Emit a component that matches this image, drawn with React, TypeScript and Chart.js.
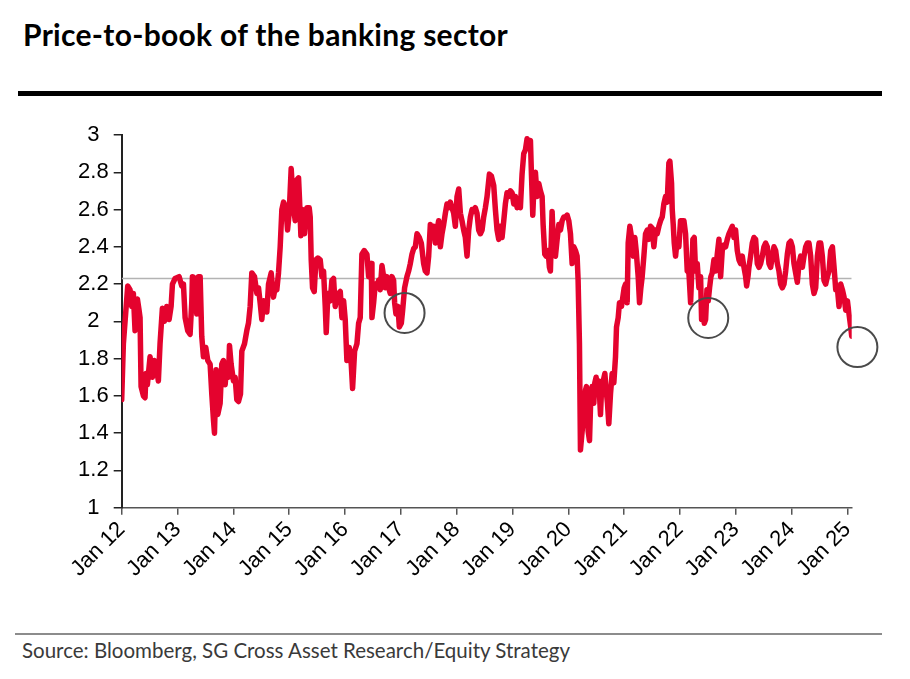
import React, { useEffect, useRef } from 'react';
import { Chart, registerables } from 'chart.js';

Chart.register(...registerables);

// decimal years (Jan 2012 = 2012.0)
const pbYears = [
  2012.000, 2012.030, 2012.108, 2012.149, 2012.179, 2012.209, 2012.239, 2012.281, 2012.311, 2012.329,
  2012.347, 2012.389, 2012.418, 2012.436, 2012.460, 2012.508, 2012.550, 2012.586, 2012.628, 2012.657,
  2012.687, 2012.729, 2012.765, 2012.807, 2012.849, 2012.885, 2012.909, 2012.956, 2013.028, 2013.076,
  2013.106, 2013.136, 2013.183, 2013.225, 2013.255, 2013.267, 2013.315, 2013.345, 2013.375, 2013.405,
  2013.434, 2013.464, 2013.506, 2013.542, 2013.584, 2013.614, 2013.644, 2013.662, 2013.691, 2013.721,
  2013.763, 2013.793, 2013.823, 2013.853, 2013.883, 2013.913, 2013.931, 2013.960, 2014.002, 2014.032,
  2014.062, 2014.092, 2014.128, 2014.152, 2014.200, 2014.241, 2014.271, 2014.301, 2014.331, 2014.379,
  2014.421, 2014.451, 2014.480, 2014.510, 2014.540, 2014.570, 2014.600, 2014.630, 2014.678, 2014.719,
  2014.749, 2014.779, 2014.809, 2014.839, 2014.869, 2014.899, 2014.941, 2014.971, 2015.000, 2015.036,
  2015.078, 2015.108, 2015.138, 2015.168, 2015.186, 2015.210, 2015.239, 2015.275, 2015.317, 2015.359,
  2015.377, 2015.395, 2015.419, 2015.449, 2015.479, 2015.514, 2015.556, 2015.586, 2015.616, 2015.646,
  2015.664, 2015.694, 2015.736, 2015.765, 2015.795, 2015.825, 2015.855, 2015.885, 2015.915, 2015.945,
  2015.975, 2016.004, 2016.034, 2016.076, 2016.112, 2016.136, 2016.172, 2016.214, 2016.244, 2016.273,
  2016.303, 2016.345, 2016.393, 2016.423, 2016.441, 2016.471, 2016.483, 2016.513, 2016.542, 2016.572,
  2016.602, 2016.632, 2016.662, 2016.692, 2016.722, 2016.752, 2016.782, 2016.811, 2016.841, 2016.871,
  2016.889, 2016.913, 2016.949, 2016.973, 2017.009, 2017.033, 2017.068, 2017.110, 2017.140, 2017.170,
  2017.200, 2017.230, 2017.260, 2017.290, 2017.331, 2017.367, 2017.409, 2017.439, 2017.469, 2017.499,
  2017.529, 2017.559, 2017.588, 2017.618, 2017.648, 2017.678, 2017.708, 2017.738, 2017.768, 2017.798,
  2017.827, 2017.857, 2017.887, 2017.917, 2017.947, 2017.977, 2018.007, 2018.037, 2018.067, 2018.096,
  2018.126, 2018.156, 2018.186, 2018.216, 2018.246, 2018.276, 2018.306, 2018.335, 2018.365, 2018.395,
  2018.425, 2018.455, 2018.485, 2018.515, 2018.545, 2018.587, 2018.622, 2018.664, 2018.694, 2018.724,
  2018.754, 2018.784, 2018.814, 2018.844, 2018.873, 2018.903, 2018.933, 2018.963, 2018.993, 2019.023,
  2019.053, 2019.083, 2019.113, 2019.142, 2019.172, 2019.202, 2019.232, 2019.262, 2019.292, 2019.322,
  2019.340, 2019.364, 2019.381, 2019.411, 2019.441, 2019.471, 2019.501, 2019.531, 2019.549, 2019.579,
  2019.603, 2019.638, 2019.662, 2019.680, 2019.710, 2019.740, 2019.770, 2019.800, 2019.830, 2019.860,
  2019.890, 2019.919, 2019.949, 2019.979, 2020.009, 2020.039, 2020.069, 2020.099, 2020.129, 2020.158,
  2020.176, 2020.200, 2020.218, 2020.248, 2020.278, 2020.308, 2020.326, 2020.356, 2020.380, 2020.403,
  2020.427, 2020.457, 2020.475, 2020.499, 2020.523, 2020.547, 2020.577, 2020.595, 2020.619, 2020.655,
  2020.678, 2020.702, 2020.726, 2020.756, 2020.786, 2020.816, 2020.846, 2020.864, 2020.894, 2020.917,
  2020.953, 2020.977, 2021.001, 2021.025, 2021.055, 2021.073, 2021.103, 2021.133, 2021.163, 2021.192,
  2021.216, 2021.252, 2021.276, 2021.300, 2021.324, 2021.354, 2021.384, 2021.414, 2021.444, 2021.473,
  2021.503, 2021.533, 2021.563, 2021.593, 2021.623, 2021.653, 2021.683, 2021.712, 2021.742, 2021.772,
  2021.802, 2021.820, 2021.850, 2021.862, 2021.880, 2021.898, 2021.922, 2021.951, 2021.981, 2022.011,
  2022.041, 2022.071, 2022.101, 2022.131, 2022.161, 2022.191, 2022.209, 2022.232, 2022.256, 2022.280,
  2022.310, 2022.340, 2022.370, 2022.388, 2022.412, 2022.436, 2022.460, 2022.484, 2022.507, 2022.531,
  2022.555, 2022.579, 2022.609, 2022.639, 2022.669, 2022.699, 2022.729, 2022.758, 2022.788, 2022.818,
  2022.848, 2022.878, 2022.908, 2022.938, 2022.968, 2022.997, 2023.027, 2023.057, 2023.087, 2023.117,
  2023.147, 2023.177, 2023.195, 2023.219, 2023.236, 2023.266, 2023.296, 2023.326, 2023.356, 2023.386,
  2023.416, 2023.446, 2023.476, 2023.505, 2023.535, 2023.565, 2023.595, 2023.625, 2023.655, 2023.685,
  2023.715, 2023.745, 2023.774, 2023.804, 2023.834, 2023.864, 2023.894, 2023.924, 2023.954, 2023.984,
  2024.014, 2024.043, 2024.073, 2024.103, 2024.133, 2024.163, 2024.193, 2024.223, 2024.253, 2024.282,
  2024.312, 2024.342, 2024.372, 2024.402, 2024.432, 2024.462, 2024.492, 2024.522, 2024.551, 2024.581,
  2024.611, 2024.641, 2024.671, 2024.701, 2024.731, 2024.761, 2024.791, 2024.820, 2024.850, 2024.880,
  2024.910, 2024.940, 2024.970, 2025.000, 2025.029, 2025.059, 2025.077,
];

const pbValues = [
  1.58, 1.88, 2.19, 2.17, 2.08, 2.15, 1.95, 2.12, 2.06, 2.02,
  1.65, 1.60, 1.59, 1.72, 1.66, 1.81, 1.70, 1.79, 1.74, 1.68,
  1.88, 2.07, 2.00, 2.08, 2.01, 2.08, 2.20, 2.23, 2.24, 2.19,
  2.20, 2.02, 1.95, 1.93, 2.10, 2.24, 2.23, 2.04, 2.24, 2.24,
  1.92, 1.81, 1.86, 1.79, 1.77, 1.61, 1.47, 1.40, 1.74, 1.50,
  1.56, 1.77, 1.79, 1.66, 1.77, 1.70, 1.87, 1.77, 1.68, 1.70,
  1.58, 1.57, 1.61, 1.84, 1.88, 1.95, 1.99, 2.08, 2.26, 2.24,
  2.15, 2.18, 2.10, 2.01, 2.11, 2.10, 2.05, 2.20, 2.26, 2.13,
  2.18, 2.17, 2.26, 2.40, 2.60, 2.64, 2.61, 2.49, 2.58, 2.82,
  2.61, 2.54, 2.76, 2.77, 2.65, 2.46, 2.60, 2.47, 2.61, 2.61,
  2.56, 2.33, 2.18, 2.16, 2.33, 2.34, 2.33, 2.24, 2.27, 2.08,
  1.94, 2.15, 2.11, 2.22, 2.23, 2.08, 2.13, 2.15, 2.16, 2.02,
  2.11, 2.01, 1.79, 1.86, 1.77, 1.64, 1.84, 1.88, 1.99, 2.02,
  2.36, 2.38, 2.36, 2.24, 2.31, 2.31, 2.02, 2.10, 2.20, 2.18,
  2.22, 2.17, 2.30, 2.24, 2.18, 2.24, 2.18, 2.15, 2.24, 2.22,
  2.10, 2.04, 2.08, 1.97, 1.99, 2.06, 2.18, 2.24, 2.27, 2.31,
  2.36, 2.39, 2.40, 2.47, 2.45, 2.42, 2.31, 2.27, 2.26, 2.35,
  2.52, 2.45, 2.51, 2.42, 2.49, 2.54, 2.40, 2.47, 2.52, 2.58,
  2.63, 2.61, 2.64, 2.61, 2.58, 2.51, 2.67, 2.71, 2.58, 2.54,
  2.49, 2.45, 2.35, 2.49, 2.56, 2.60, 2.59, 2.61, 2.58, 2.49,
  2.47, 2.49, 2.56, 2.61, 2.67, 2.79, 2.78, 2.73, 2.60, 2.49,
  2.44, 2.51, 2.45, 2.54, 2.63, 2.69, 2.67, 2.70, 2.69, 2.63,
  2.67, 2.61, 2.63, 2.61, 2.79, 2.90, 2.92, 2.98, 2.96, 2.97,
  2.79, 2.57, 2.70, 2.80, 2.67, 2.74, 2.70, 2.67, 2.52, 2.36,
  2.35, 2.38, 2.29, 2.27, 2.59, 2.36, 2.35, 2.44, 2.52, 2.49,
  2.54, 2.56, 2.56, 2.57, 2.54, 2.47, 2.31, 2.40, 2.38, 2.35,
  2.22, 1.88, 1.31, 1.41, 1.50, 1.63, 1.65, 1.41, 1.36, 1.59,
  1.65, 1.56, 1.67, 1.70, 1.61, 1.68, 1.50, 1.63, 1.67, 1.72,
  1.63, 1.56, 1.45, 1.61, 1.72, 1.67, 1.81, 1.97, 2.02, 2.10,
  2.08, 2.13, 2.18, 2.20, 2.10, 2.42, 2.51, 2.45, 2.35, 2.45,
  2.38, 2.24, 2.10, 2.18, 2.24, 2.35, 2.47, 2.49, 2.44, 2.51,
  2.50, 2.40, 2.49, 2.47, 2.51, 2.54, 2.56, 2.63, 2.67, 2.64,
  2.85, 2.86, 2.74, 2.60, 2.52, 2.42, 2.35, 2.44, 2.40, 2.54,
  2.54, 2.54, 2.47, 2.27, 2.26, 2.10, 2.24, 2.44, 2.45, 2.27,
  2.31, 2.18, 2.24, 2.01, 2.10, 1.99, 2.01, 2.17, 2.11, 2.18,
  2.24, 2.26, 2.33, 2.27, 2.36, 2.44, 2.24, 2.38, 2.41, 2.40,
  2.44, 2.47, 2.49, 2.51, 2.45, 2.49, 2.38, 2.33, 2.31, 2.35,
  2.29, 2.24, 2.19, 2.24, 2.29, 2.35, 2.42, 2.45, 2.44, 2.31,
  2.29, 2.31, 2.35, 2.40, 2.42, 2.40, 2.31, 2.29, 2.35, 2.40,
  2.38, 2.31, 2.27, 2.20, 2.18, 2.20, 2.27, 2.36, 2.42, 2.43,
  2.40, 2.31, 2.26, 2.21, 2.31, 2.35, 2.29, 2.35, 2.40, 2.42,
  2.42, 2.35, 2.20, 2.15, 2.18, 2.35, 2.42, 2.42, 2.35, 2.22,
  2.20, 2.24, 2.27, 2.38, 2.40, 2.29, 2.17, 2.18, 2.08, 2.20,
  2.17, 2.13, 2.06, 2.11, 2.04, 1.97, 1.92,
];

// long-run average line
const averageYears = [2012.0, 2025.077];
const averageValue = 2.23;

// highlighted troughs
const circleYears = [2017.067, 2022.507, 2025.179];
const circleValues = [2.045, 2.018, 1.862];

const tickYears = [2012, 2013, 2014, 2015, 2016, 2017, 2018, 2019, 2020, 2021, 2022, 2023, 2024, 2025];

const circlePlugin = {
  id: 'troughCircles',
  afterDatasetsDraw(chart: any) {
    const { ctx, scales } = chart;
    ctx.save();
    ctx.strokeStyle = '#4a4a4a';
    ctx.lineWidth = 2;
    circleYears.forEach((yr, i) => {
      const px = scales.x.getPixelForValue(yr);
      const py = scales.y.getPixelForValue(circleValues[i]);
      ctx.beginPath();
      ctx.arc(px, py, 20, 0, Math.PI * 2);
      ctx.stroke();
    });
    ctx.restore();
  },
};

const PriceToBookChart: React.FC = () => {
  const chartRef = useRef<HTMLCanvasElement>(null);
  const chartInstance = useRef<Chart | null>(null);

  useEffect(() => {
    if (!chartRef.current) return;
    if (chartInstance.current) chartInstance.current.destroy();

    const ctx = chartRef.current.getContext('2d');
    if (!ctx) return;

    const tickFont = { family: '"Liberation Sans", Arial, sans-serif', size: 22 };

    chartInstance.current = new Chart(ctx, {
      type: 'line',
      data: {
        datasets: [
          {
            label: 'Price-to-book',
            data: pbYears.map((yr, i) => ({ x: yr, y: pbValues[i] })),
            borderColor: '#e4032e',
            borderWidth: 5.5,
            borderJoinStyle: 'round',
            borderCapStyle: 'round',
            pointRadius: 0,
            tension: 0,
            fill: false,
            order: 1,
          },
          {
            label: 'Average',
            data: averageYears.map((yr) => ({ x: yr, y: averageValue })),
            borderColor: '#b3b3b3',
            borderWidth: 1.5,
            pointRadius: 0,
            fill: false,
            order: 2,
          },
        ],
      },
      options: {
        animation: false,
        responsive: true,
        maintainAspectRatio: false,
        layout: { padding: { left: 0, top: 25, right: 48.3, bottom: 0 } },
        plugins: {
          legend: { display: false },
          tooltip: { enabled: false },
        },
        scales: {
          x: {
            type: 'linear',
            min: 2012,
            max: 2025.077,
            afterBuildTicks: (scale: any) => {
              scale.ticks = tickYears.map((v) => ({ value: v }));
            },
            afterFit: (scale: any) => {
              scale.height = 112.3;
            },
            grid: {
              drawOnChartArea: false,
              drawTicks: true,
              tickLength: 7,
              color: '#555555',
              lineWidth: 1.5,
            },
            border: { display: true, color: '#555555', width: 1.5 },
            ticks: {
              autoSkip: false,
              minRotation: 45,
              maxRotation: 45,
              padding: 2,
              color: '#000000',
              font: tickFont,
              callback: (value: any) => 'Jan ' + String(value).slice(2),
            },
          },
          y: {
            min: 1,
            max: 3,
            afterFit: (scale: any) => {
              scale.width = 121.7;
            },
            grid: {
              drawOnChartArea: false,
              drawTicks: true,
              tickLength: 8,
              color: '#222222',
              lineWidth: 1.5,
            },
            border: { display: true, color: '#222222', width: 2 },
            ticks: {
              stepSize: 0.2,
              padding: 5,
              crossAlign: 'center',
              color: '#000000',
              font: tickFont,
              callback: (value: any) => String(Number(Number(value).toFixed(1))),
            },
          },
        },
      },
      plugins: [circlePlugin],
    });

    return () => {
      if (chartInstance.current) {
        chartInstance.current.destroy();
        chartInstance.current = null;
      }
    };
  }, []);

  return (
    <div
      style={{
        position: 'absolute',
        left: 0,
        top: 0,
        width: 910,
        height: 679,
        background: '#ffffff',
        fontFamily: 'Lato, "Noto Sans", sans-serif',
      }}
    >
      <div
        style={{
          position: 'absolute',
          left: 23,
          top: 19,
          fontSize: 30,
          lineHeight: '30px',
          fontWeight: 700,
          letterSpacing: 0.3,
          color: '#000000',
          whiteSpace: 'nowrap',
        }}
      >
        Price-to-book of the banking sector
      </div>
      <div style={{ position: 'absolute', left: 18, top: 91, width: 864, height: 5, background: '#000000' }} />
      <div style={{ position: 'absolute', left: 0, top: 110, width: 900, height: 510 }}>
        <canvas ref={chartRef}></canvas>
      </div>
      <div style={{ position: 'absolute', left: 15, top: 633, width: 867, height: 1.5, background: '#8c8c8c' }} />
      <div
        style={{
          position: 'absolute',
          left: 22,
          top: 638,
          fontSize: 20.5,
          lineHeight: '24px',
          fontWeight: 400,
          color: '#3a3a3a',
          whiteSpace: 'nowrap',
        }}
      >
        Source: Bloomberg, SG Cross Asset Research/Equity Strategy
      </div>
    </div>
  );
};

export default function App() {
  return <PriceToBookChart />;
}
